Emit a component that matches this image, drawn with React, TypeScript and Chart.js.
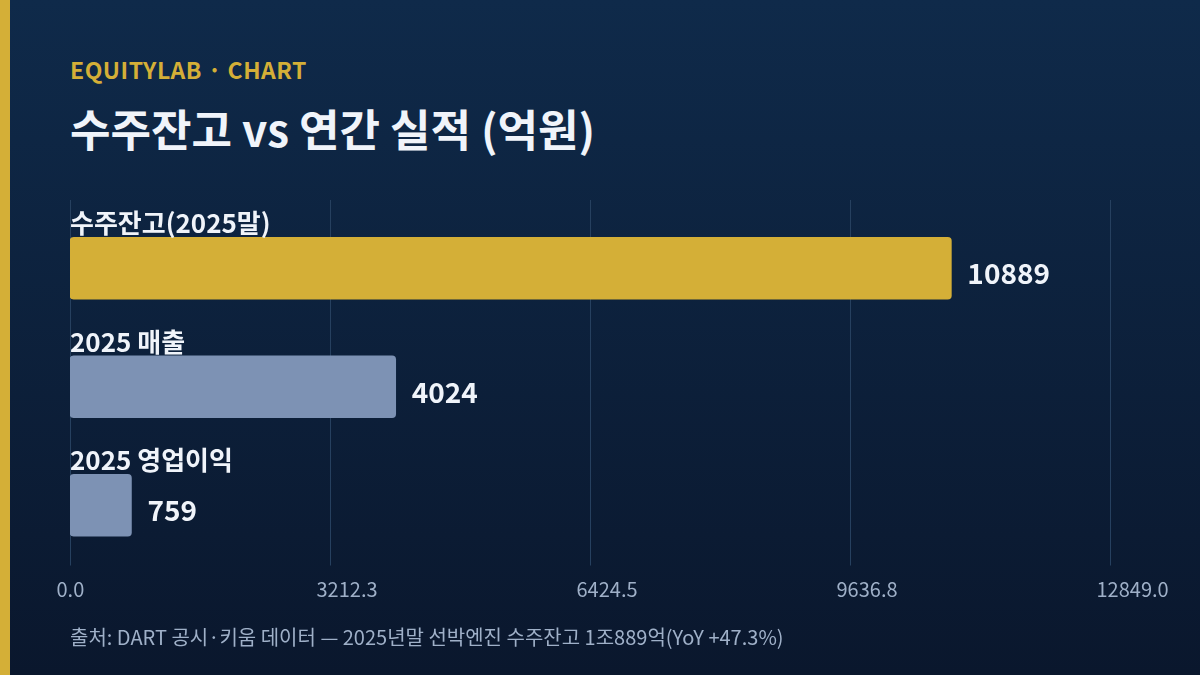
import React, { useEffect, useRef } from "react";
import { Chart, registerables } from "chart.js";
Chart.register(...registerables);

const categories = ["수주잔고(2025말)", "2025 매출", "2025 영업이익"];
const values = [10889, 4024, 759];
const barColors = ["#d4af37", "#7d92b4", "#7d92b4"];
const xTicks = [0, 3212.25, 6424.5, 9636.75, 12849];

const FONT = "'Noto Sans CJK KR', 'Noto Sans', sans-serif";

// vertical grid lines, a bit taller than the chart area like the reference
const gridPlugin = {
  id: "gridLines",
  beforeDatasetsDraw(chart: any) {
    const { ctx, chartArea, scales } = chart;
    ctx.save();
    ctx.strokeStyle = "#26405f";
    ctx.lineWidth = 1;
    xTicks.forEach((t) => {
      const x = Math.round(scales.x.getPixelForValue(t)) + 0.5;
      ctx.beginPath();
      ctx.moveTo(x, chartArea.top - 9);
      ctx.lineTo(x, chartArea.bottom + 1);
      ctx.stroke();
    });
    ctx.restore();
  },
};

// category name above each bar, value to the right
const labelPlugin = {
  id: "barLabels",
  afterDatasetsDraw(chart: any) {
    const { ctx, chartArea } = chart;
    const meta = chart.getDatasetMeta(0);
    ctx.save();
    ctx.fillStyle = "#f0f4fa";
    ctx.textAlign = "left";
    ctx.textBaseline = "alphabetic";
    meta.data.forEach((bar: any, i: number) => {
      const { x, y, height } = bar.getProps(["x", "y", "height"], true);
      ctx.font = `bold 26px ${FONT}`;
      ctx.fillText(categories[i], chartArea.left, y - height / 2 - 4);
      ctx.font = `bold 28px ${FONT}`;
      ctx.fillText(String(values[i]), x + 16, y + 16);
    });
    ctx.restore();
  },
};

const App = () => {
  const canvasRef = useRef<HTMLCanvasElement>(null);

  useEffect(() => {
    const ctx = canvasRef.current!.getContext("2d")!;
    const chart = new Chart(ctx, {
      type: "bar",
      data: {
        labels: categories,
        datasets: [
          {
            data: values,
            backgroundColor: barColors,
            borderRadius: 4,
            borderSkipped: false,
            barThickness: 62,
          },
        ],
      },
      options: {
        indexAxis: "y",
        responsive: false,
        animation: false,
        layout: { padding: { left: 70, right: 90, top: 209, bottom: 70.5 } },
        scales: {
          y: { display: false },
          x: {
            min: 0,
            max: 12849,
            grid: { display: false, drawTicks: false },
            border: { display: false },
            afterBuildTicks: (axis: any) => {
              axis.ticks = xTicks.map((v) => ({ value: v }));
            },
            afterFit: (axis: any) => {
              axis.height = 40;
            },
            ticks: {
              color: "#9fb0c8",
              font: { family: FONT, size: 20 },
              padding: 13,
              align: "start",
              labelOffset: -13.5,
              autoSkip: false,
              maxRotation: 0,
              callback: (v: any) => Number(v).toFixed(1),
            },
          },
        },
        plugins: {
          legend: { display: false },
          tooltip: { enabled: false },
        },
      },
      plugins: [gridPlugin, labelPlugin],
    } as any);

    return () => chart.destroy();
  }, []);

  return (
    <div
      style={{
        position: "fixed",
        left: 0,
        top: 0,
        width: 1200,
        height: 675,
        overflow: "hidden",
        background: "linear-gradient(180deg, #0f2a4a 0%, #0a172d 100%)",
        fontFamily: FONT,
      }}
    >
      <div style={{ position: "absolute", left: 0, top: 0, width: 10, height: 675, background: "#d4af37" }} />
      <div
        style={{
          position: "absolute",
          left: 70,
          top: 58,
          fontSize: 23,
          lineHeight: 1,
          fontWeight: 700,
          color: "#d4af37",
          letterSpacing: 0.5,
          whiteSpace: "nowrap",
        }}
      >
        EQUITYLAB · CHART
      </div>
      <div
        style={{
          position: "absolute",
          left: 70,
          top: 106,
          fontSize: 44,
          lineHeight: 1,
          fontWeight: 700,
          color: "#f0f4fa",
          whiteSpace: "nowrap",
        }}
      >
        수주잔고 vs 연간 실적 (억원)
      </div>
      <canvas
        ref={canvasRef}
        width={1200}
        height={675}
        style={{ position: "absolute", left: 0, top: 0, width: 1200, height: 675 }}
      />
      <div
        style={{
          position: "absolute",
          left: 70,
          top: 627,
          fontSize: 20,
          lineHeight: 1,
          color: "#9fb0c8",
          whiteSpace: "nowrap",
        }}
      >
        출처: DART 공시·키움 데이터 — 2025년말 선박엔진 수주잔고 1조889억(YoY +47.3%)
      </div>
    </div>
  );
};

export default App;
